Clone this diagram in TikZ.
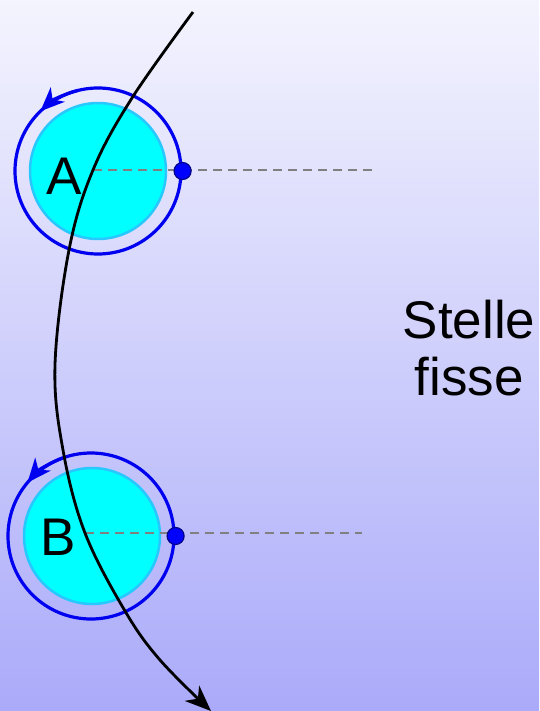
\documentclass[tikz,border=0pt]{standalone}
\usepackage{fontspec}
\setmainfont{Liberation Sans}
\usetikzlibrary{arrows.meta}
\definecolor{bgtop}{RGB}{244,244,254}
\definecolor{bgbot}{RGB}{170,170,250}
\definecolor{planetfill}{RGB}{0,255,255}
\definecolor{planetedge}{RGB}{40,200,255}
\definecolor{orbitblue}{RGB}{0,0,240}
\definecolor{dotedge}{RGB}{0,0,140}
\definecolor{dashgray}{RGB}{128,128,128}
\tikzset{
  planet/.style={circle, draw=planetedge, fill=planetfill, line width=2.5pt, minimum size=136pt, inner sep=0pt},
  orbit/.style={circle, draw=orbitblue, line width=3.2pt, minimum size=166pt, inner sep=0pt},
  marker/.style={circle, draw=dotedge, fill=blue, line width=1.2pt, minimum size=17pt, inner sep=0pt},
  refline/.style={draw=dashgray, line width=2.3pt, dash pattern=on 9pt off 6pt},
  bigtext/.style={font=\fontsize{53}{57}\selectfont, inner sep=0pt, anchor=base},
  path/.style={draw=black, line width=2.8pt, -{Stealth[length=26pt, width=21pt, inset=8pt]}},
  spin/.style={draw=orbitblue, line width=3.2pt, -{Stealth[length=24pt, width=20pt, inset=7pt]}}
}
\begin{document}
\begin{tikzpicture}[x=1pt,y=1pt]
\useasboundingbox (0,0) rectangle (539,-711);
\shade[top color=bgtop, bottom color=bgbot] (0,0) rectangle (539,-711);

% planet A
\node[orbit] (orbA) at (98,-171) {};
\node[planet] (plA) at (98,-171) {};
\draw[spin] (orbA.center) ++(104:83) arc (104:134:83);
% planet B
\node[orbit] (orbB) at (91,-536) {};
\node[planet] (plB) at (92,-536) {};
\draw[spin] (orbB.center) ++(110:83) arc (110:140:83);

% path coordinates
\coordinate (p0) at (193,-12);
\coordinate (p1) at (132,-98);
\coordinate (p2) at (93,-170);
\coordinate (p3) at (69,-250);
\coordinate (p4) at (55,-365);
\coordinate (p5) at (63,-450);
\coordinate (p6) at (85,-533);
\coordinate (p7) at (125,-611);
\coordinate (p8) at (160,-660);
\coordinate (p9) at (211,-711);

% dashed reference lines
\coordinate (eA) at (375,-170);
\coordinate (eB) at (362,-533);
\draw[refline] (p2) -- (eA);
\draw[refline] (p6) -- (eB);

% trajectory
\draw[path] plot[smooth, tension=0.6] coordinates {(p0) (p1) (p2) (p3) (p4) (p5) (p6) (p7) (p8) (p9)};

% markers
\node[marker] (mA) at (orbA.east) {};
\node[marker] (mB) at (orbB.east) {};

% labels
\node[bigtext] (lA) at (64,-195) {A};
\node[bigtext] (lB) at (58,-555) {B};
\node[bigtext] (s1) at (469,-338) {Stelle};
\node[bigtext] (s2) at (469,-395) {fisse};
\end{tikzpicture}
\end{document}
